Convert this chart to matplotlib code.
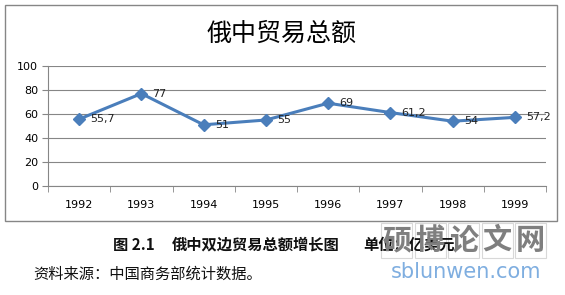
import matplotlib
matplotlib.use("Agg")
import matplotlib.pyplot as plt
from matplotlib.patches import Rectangle

plt.rcParams['font.family'] = ['Noto Sans CJK SC', 'DejaVu Sans']

years = ["1992", "1993", "1994", "1995", "1996", "1997", "1998", "1999"]
values = [55.7, 77, 51, 55, 69, 61.2, 54, 57.2]
value_labels = ["55,7", "77", "51", "55", "69", "61,2", "54", "57,2"]
y_ticks = [0, 20, 40, 60, 80, 100]

title = "俄中贸易总额"
caption_parts = ["图 2.1", "俄中双边贸易总额增长图", "单位：亿美元"]
source = "资料来源：中国商务部统计数据。"

W, H = 565, 295
fig = plt.figure(figsize=(W / 100, H / 100), dpi=100)

# chart frame
fig.patches.append(Rectangle((5 / W, 1 - 221 / H), 552 / W, 216 / H,
                             transform=fig.transFigure, fill=False,
                             edgecolor="#868686", linewidth=1.0))

ax = fig.add_axes([48 / W, 1 - 186 / H, (546 - 48) / W, (186 - 66) / H])
x = list(range(len(years)))
line_color = "#4A7EBB"
ax.plot(x, values, color=line_color, linewidth=2.2, marker="D",
        markersize=6, markerfacecolor=line_color, markeredgecolor=line_color)
for xi, v, lab in zip(x, values, value_labels):
    ax.annotate(lab, (xi, v), xytext=(8, 0), textcoords="offset points",
                ha="left", va="center", fontsize=8, color="#222222",
                family=["DejaVu Sans"])

ax.set_xlim(-0.5, len(years) - 0.5)
ax.set_ylim(0, 100)
ax.set_yticks(y_ticks)
ax.set_yticklabels([str(t) for t in y_ticks], fontsize=8, family=["DejaVu Sans"])
ax.yaxis.grid(True, color="#868686", linewidth=0.8)
ax.set_axisbelow(True)

ax.set_xticks(x)
ax.set_xticklabels(years, fontsize=8, family=["DejaVu Sans"])
ax.tick_params(axis="x", length=0, pad=10)
ax.set_xticks([i - 0.5 for i in range(len(years) + 1)], minor=True)
ax.tick_params(axis="x", which="minor", length=4, color="#868686")
ax.tick_params(axis="y", length=4, color="#868686", pad=3)
for s in ["top", "right"]:
    ax.spines[s].set_visible(False)
ax.spines["left"].set_color("#868686")
ax.spines["bottom"].set_color("#868686")

fig.text(282 / W, 1 - 34 / H, title, ha="center", va="center", fontsize=18)

cap_x = [113, 172, 363]
for cx, part in zip(cap_x, caption_parts):
    fig.text(cx / W, 1 - 245 / H, part, ha="left", va="center", fontsize=11,
             fontweight="semibold", color="#111111")
fig.text(33 / W, 1 - 274 / H, source, ha="left", va="center", fontsize=11,
         color="#111111")

# watermark
wm_chars = "硕博论文网"
for i, ch in enumerate(wm_chars):
    x0 = 381 + i * 33.5
    fig.patches.append(Rectangle((x0 / W, 1 - 258 / H), 31 / W, 35 / H,
                                 transform=fig.transFigure, fill=False,
                                 edgecolor="#D8D8D8", linewidth=0.8))
    fig.text((x0 + 15.5) / W, 1 - 240 / H, ch, ha="center", va="center",
             fontsize=21, color="#7F7F7F", fontweight="bold")
fig.text(466 / W, 1 - 272 / H, "sblunwen.com", ha="center", va="center",
         fontsize=15, color="#7FAEE0", family=["DejaVu Sans"])

fig.savefig("out.png", dpi=100, facecolor="white")
